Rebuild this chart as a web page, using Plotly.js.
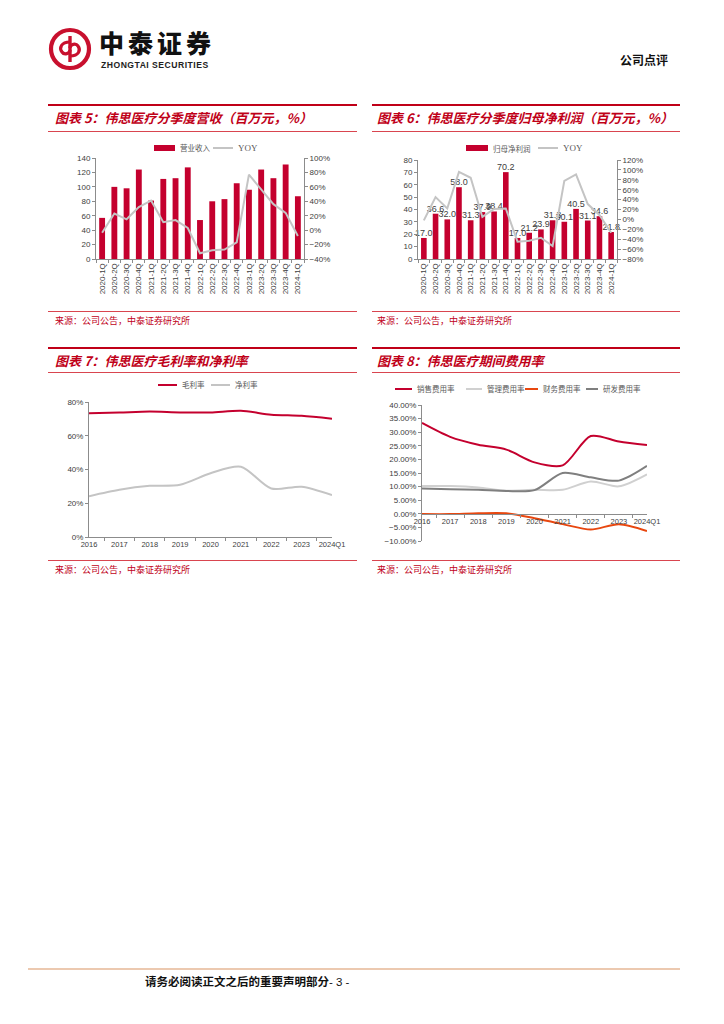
<!DOCTYPE html>
<html><head><meta charset="utf-8">
<script src="https://cdn.plot.ly/plotly-3.0.1.min.js"></script>
<style>
html,body{margin:0;padding:0;background:#fff;}
body{width:724px;height:1024px;position:relative;overflow:hidden;font-family:"Noto Sans CJK SC","Liberation Sans",sans-serif;}
.abs{position:absolute;}
.thick{position:absolute;height:2px;background:#c00018;}
.thin{position:absolute;height:1px;background:#d9454f;}
.ttl{position:absolute;font-size:13px;font-weight:bold;font-style:italic;color:#c00018;white-space:nowrap;font-family:"Noto Sans CJK SC",sans-serif;}
.src{position:absolute;font-size:9px;color:#c00018;white-space:nowrap;font-family:"Noto Sans CJK SC",sans-serif;}
.chart{position:absolute;}
</style>
</head><body>
<!-- header -->
<svg class="abs" style="left:48px;top:27px" width="44" height="44" viewBox="0 0 44 44">
  <circle cx="22" cy="22" r="19" fill="none" stroke="#c8102e" stroke-width="4.2"/>
  <path d="M22 9 L22 35" stroke="#c8102e" stroke-width="3.4"/>
  <path d="M22 15 C13 15 11 21 14 25 C16 28 22 27 22 23" fill="none" stroke="#c8102e" stroke-width="3.2"/>
  <path d="M22 29 C31 29 33 23 30 19 C28 16 22 17 22 21" fill="none" stroke="#c8102e" stroke-width="3.2"/>
</svg>
<div class="abs" style="left:99px;top:30px;font-size:25px;font-weight:900;color:#111;letter-spacing:4px;font-family:'Noto Sans CJK SC';line-height:25px;">中泰证券</div>
<div class="abs" style="left:101px;top:61px;font-size:8.6px;font-weight:bold;color:#222;font-family:'Liberation Sans';letter-spacing:0.5px;line-height:9px;">ZHONGTAI SECURITIES</div>
<div class="abs" style="left:620px;top:51px;font-size:12px;font-weight:bold;color:#111;font-family:'Noto Sans CJK SC';">公司点评</div>

<!-- panel headers -->
<div class="thick" style="left:48px;top:104px;width:309px"></div>
<div class="ttl" style="left:55px;top:108px">图表 5：伟思医疗分季度营收（百万元，%）</div>
<div class="thin" style="left:48px;top:131px;width:309px"></div>
<div class="thick" style="left:372px;top:104px;width:308px"></div>
<div class="ttl" style="left:377px;top:108px">图表 6：伟思医疗分季度归母净利润（百万元，%）</div>
<div class="thin" style="left:372px;top:131px;width:308px"></div>

<div class="thin" style="left:48px;top:311px;width:309px"></div>
<div class="src" style="left:55px;top:314px">来源：公司公告，中泰证券研究所</div>
<div class="thin" style="left:372px;top:311px;width:308px"></div>
<div class="src" style="left:377px;top:314px">来源：公司公告，中泰证券研究所</div>

<div class="thick" style="left:48px;top:347px;width:309px"></div>
<div class="ttl" style="left:55px;top:351px">图表 7：伟思医疗毛利率和净利率</div>
<div class="thin" style="left:48px;top:372px;width:309px"></div>
<div class="thick" style="left:372px;top:347px;width:308px"></div>
<div class="ttl" style="left:377px;top:351px">图表 8：伟思医疗期间费用率</div>
<div class="thin" style="left:372px;top:372px;width:308px"></div>

<div class="thin" style="left:48px;top:560px;width:309px"></div>
<div class="src" style="left:55px;top:563px">来源：公司公告，中泰证券研究所</div>
<div class="thin" style="left:372px;top:560px;width:308px"></div>
<div class="src" style="left:377px;top:563px">来源：公司公告，中泰证券研究所</div>

<!-- footer -->
<div class="abs" style="left:28px;top:968px;width:652px;height:2px;background:#ecc9b0"></div>
<div class="abs" style="left:145px;top:973px;font-size:11.5px;font-weight:bold;color:#111;white-space:nowrap;font-family:'Noto Sans CJK SC';">请务必阅读正文之后的重要声明部分<span style="font-family:'Liberation Sans';font-weight:normal">- 3 -</span></div>

<div id="c5" class="chart" style="left:50px;top:135px;width:300px;height:175px"></div>
<div id="c6" class="chart" style="left:370px;top:135px;width:300px;height:175px"></div>
<div id="c7" class="chart" style="left:50px;top:375px;width:300px;height:185px"></div>
<div id="c8" class="chart" style="left:370px;top:375px;width:300px;height:185px"></div>

<script>
// ---------------- data ----------------
const quarters = ["2020-1Q","2020-2Q","2020-3Q","2020-4Q","2021-1Q","2021-2Q","2021-3Q","2021-4Q",
  "2022-1Q","2022-2Q","2022-3Q","2022-4Q","2023-1Q","2023-2Q","2023-3Q","2023-4Q","2024-1Q"];
const revenue = [57, 100, 98, 124, 81, 111, 112, 127, 54, 80, 83, 105, 96, 124, 112, 131, 87];
const revenueYoy = [-3.5, 23, 15, 32, 41, 11, 14, 3, -32, -28, -27, -17, 77, 56, 36, 24, -8];
const netProfit = [17.0, 36.6, 32.0, 58.0, 31.3, 37.9, 38.4, 70.2, 17.0, 21.2, 23.9, 31.3, 30.1, 40.5, 31.1, 34.6, 21.8];
const netProfitYoy = [-2, 45, 22, 96, 84, 5, 21, 22, -45, -43, -37, -54, 78, 91, 31, 9, -27];
const years = ["2016","2017","2018","2019","2020","2021","2022","2023","2024Q1"];
const grossMargin = [73.4, 73.8, 74.3, 73.8, 73.8, 74.8, 72.5, 71.8, 70.1];
const netMargin = [24.2, 28.0, 30.3, 31.0, 37.8, 41.6, 28.7, 29.8, 24.8];
const sellingRate = [33.4, 28.3, 25.4, 23.6, 18.9, 17.8, 28.6, 26.6, 25.3];
const adminRate = [10.2, 10.2, 9.7, 8.5, 8.8, 8.8, 11.9, 10.1, 14.5];
const financeRate = [-0.1, -0.1, 0.2, 0.2, -1.6, -3.8, -5.8, -3.8, -6.3];
const rdRate = [9.3, 9.0, 8.8, 8.4, 8.7, 15.0, 13.4, 12.2, 17.6];

// ---------------- styles ----------------
const RED = '#c4002e';
const GRAYL = '#c4c4c4';
const TICKFONT = {family:'Liberation Sans, Arial, sans-serif', size:8, color:'#404040'};
const LEGFONT = {family:'Noto Sans CJK SC, Liberation Sans, sans-serif', size:7.5, color:'#595959'};
const YOYFONT = {family:'Liberation Serif, serif', size:9, color:'#595959'};
const AXC = '#8c8c8c';
const cfg = {staticPlot:true, displayModeBar:false};

function yAx(extra){
  return Object.assign({showgrid:false, zeroline:false, showline:true, linecolor:AXC, linewidth:1,
    ticks:'outside', ticklen:3, tickcolor:AXC, tickfont:TICKFONT, fixedrange:true}, extra);
}
function xAx(extra){
  return Object.assign({type:'category', showgrid:false, zeroline:false, showline:true, linecolor:AXC, linewidth:1,
    ticks:'outside', ticklen:3, tickcolor:AXC, tickson:'boundaries', tickfont:TICKFONT, fixedrange:true}, extra);
}

// manual legend (page-pixel placement converted to paper coordinates)
function legendBits(g, items){
  const px = x => (x - g.left - g.ml) / g.w;
  const py = y => 1 - (y - g.top - g.mt) / g.h;
  const shapes = [], ann = [];
  items.forEach(it => {
    if (it.kind === 'bar') {
      shapes.push({type:'rect', xref:'paper', yref:'paper', x0:px(it.x0), x1:px(it.x1),
        y0:py(it.y+3), y1:py(it.y-3), fillcolor:it.color, line:{width:0}});
    } else {
      shapes.push({type:'line', xref:'paper', yref:'paper', x0:px(it.x0), x1:px(it.x1),
        y0:py(it.y), y1:py(it.y), line:{color:it.color, width:2}});
    }
    ann.push({xref:'paper', yref:'paper', x:px(it.x1 + 3), y:py(it.y), xanchor:'left', yanchor:'middle',
      text:it.label, showarrow:false, font:it.font || LEGFONT});
  });
  return {shapes, annotations:ann};
}

// Chart 5
const g5 = {left:50, top:135, ml:46, mt:23, w:208, h:101};
const l5 = legendBits(g5, [
  {kind:'bar', color:RED, x0:154, x1:175, y:148, label:'营业收入'},
  {kind:'line', color:GRAYL, x0:213, x1:233, y:148, label:'YOY', font:YOYFONT}
]);
Plotly.newPlot('c5', [
  {type:'bar', x:quarters, y:revenue, name:'营业收入', marker:{color:RED}, width:0.48},
  {type:'scatter', mode:'lines', x:quarters, y:revenueYoy, yaxis:'y2', name:'YOY', line:{color:GRAYL, width:2}}
], {
  width:300, height:175, margin:{l:46, r:46, t:23, b:51},
  paper_bgcolor:'rgba(0,0,0,0)', plot_bgcolor:'rgba(0,0,0,0)',
  showlegend:false, shapes:l5.shapes, annotations:l5.annotations,
  xaxis:xAx({tickangle:-90}),
  yaxis:yAx({range:[0,140], dtick:20}),
  yaxis2:yAx({overlaying:'y', side:'right', range:[-40,100], dtick:20, ticksuffix:'%'})
}, cfg);

// Chart 6
const g6 = {left:370, top:135, ml:48, mt:25, w:199, h:99};
const l6 = legendBits(g6, [
  {kind:'bar', color:RED, x0:466, x1:488, y:148, label:'归母净利润'},
  {kind:'line', color:GRAYL, x0:538, x1:558, y:148, label:'YOY', font:YOYFONT}
]);
Plotly.newPlot('c6', [
  {type:'bar', x:quarters, y:netProfit, name:'归母净利润', marker:{color:RED}, width:0.48,
   text:netProfit.map(v=>v.toFixed(1)), textposition:'outside', cliponaxis:false, constraintext:'none',
   textfont:{family:'Liberation Sans, Arial', size:9, color:'#404040'}},
  {type:'scatter', mode:'lines', x:quarters, y:netProfitYoy, yaxis:'y2', name:'YOY', line:{color:GRAYL, width:2}}
], {
  width:300, height:175, margin:{l:48, r:53, t:25, b:51},
  paper_bgcolor:'rgba(0,0,0,0)', plot_bgcolor:'rgba(0,0,0,0)',
  showlegend:false, shapes:l6.shapes, annotations:l6.annotations,
  xaxis:xAx({tickangle:-90}),
  yaxis:yAx({range:[0,80], dtick:10}),
  yaxis2:yAx({overlaying:'y', side:'right', range:[-80,120], dtick:20, ticksuffix:'%'})
}, cfg);

// Chart 7
const g7 = {left:50, top:375, ml:39, mt:27, w:243, h:135};
const l7 = legendBits(g7, [
  {kind:'line', color:RED, x0:158, x1:177, y:385, label:'毛利率'},
  {kind:'line', color:GRAYL, x0:211, x1:230, y:385, label:'净利率'}
]);
Plotly.newPlot('c7', [
  {type:'scatter', mode:'lines', x:years, y:grossMargin, name:'毛利率', line:{color:RED, width:2, shape:'spline', smoothing:0.8}},
  {type:'scatter', mode:'lines', x:years, y:netMargin, name:'净利率', line:{color:GRAYL, width:2, shape:'spline', smoothing:0.8}}
], {
  width:300, height:185, margin:{l:39, r:18, t:27, b:23},
  paper_bgcolor:'rgba(0,0,0,0)', plot_bgcolor:'rgba(0,0,0,0)',
  showlegend:false, shapes:l7.shapes, annotations:l7.annotations,
  xaxis:xAx({tickangle:0, tickfont:{family:'Liberation Sans, Arial', size:7.5, color:'#404040'}}),
  yaxis:yAx({range:[0,80], dtick:20, ticksuffix:'%'})
}, cfg);

// Chart 8
const g8 = {left:370, top:375, ml:52, mt:30, w:225, h:136};
const l8 = legendBits(g8, [
  {kind:'line', color:RED, x0:395, x1:412, y:389, label:'销售费用率'},
  {kind:'line', color:'#d0d0d0', x0:466, x1:482, y:389, label:'管理费用率'},
  {kind:'line', color:'#e8470f', x0:525, x1:538, y:389, label:'财务费用率'},
  {kind:'line', color:'#7f7f7f', x0:586, x1:598, y:389, label:'研发费用率'}
]);
Plotly.newPlot('c8', [
  {type:'scatter', mode:'lines', x:years, y:sellingRate, name:'销售费用率', line:{color:RED, width:2, shape:'spline', smoothing:0.8}},
  {type:'scatter', mode:'lines', x:years, y:adminRate, name:'管理费用率', line:{color:'#d0d0d0', width:2, shape:'spline', smoothing:0.8}},
  {type:'scatter', mode:'lines', x:years, y:financeRate, name:'财务费用率', line:{color:'#e8470f', width:2, shape:'spline', smoothing:0.8}},
  {type:'scatter', mode:'lines', x:years, y:rdRate, name:'研发费用率', line:{color:'#7f7f7f', width:2, shape:'spline', smoothing:0.8}}
], {
  width:300, height:185, margin:{l:52, r:23, t:30, b:19},
  paper_bgcolor:'rgba(0,0,0,0)', plot_bgcolor:'rgba(0,0,0,0)',
  showlegend:false, shapes:l8.shapes, annotations:l8.annotations,
  xaxis:xAx({anchor:'free', position:0.2, tickangle:0, tickfont:{family:'Liberation Sans, Arial', size:7.5, color:'#404040'}}),
  yaxis:yAx({range:[-10,40], dtick:5, tickformat:'.2f', ticksuffix:'%'})
}, cfg);
</script>
</body></html>
